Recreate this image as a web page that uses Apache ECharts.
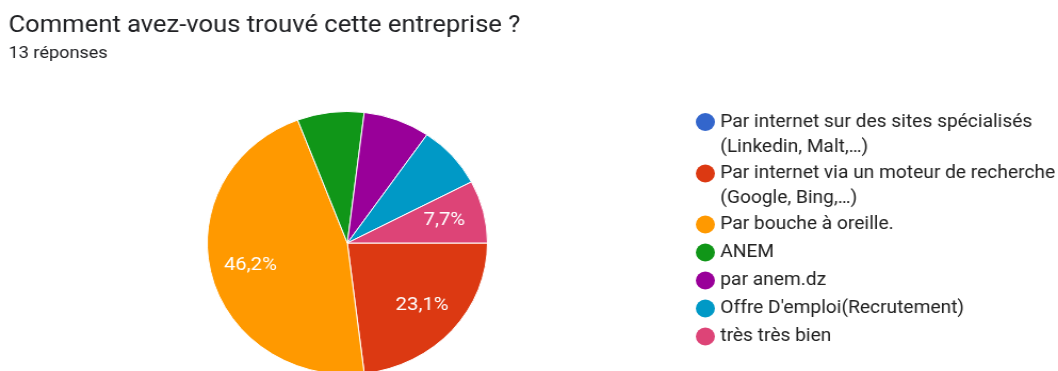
<!DOCTYPE html>
<html>
<head>
<meta charset="utf-8">
<script src="https://cdn.jsdelivr.net/npm/echarts@6/dist/echarts.min.js"></script>
<style>
  html, body { margin: 0; padding: 0; background: #ffffff; overflow: hidden; }
  /* the chart is laid out at 993px and widened to fill the 1058px page */
  #chart { width: 993px; height: 371px; transform: scaleX(1.0655); transform-origin: 0 0; }
</style>
</head>
<body>
<div id="chart"></div>
<script>
// Survey answers: "Comment avez-vous trouvé cette entreprise ?"
const categories = [
  'Par internet sur des sites spécialisés\n(Linkedin, Malt,…)',
  'Par internet via un moteur de recherche\n(Google, Bing,…)',
  'Par bouche à oreille.',
  'ANEM',
  'par anem.dz',
  "Offre D'emploi(Recrutement)",
  'très très bien'
];
const counts = [0, 3, 6, 1, 1, 1, 1];
// slices that carry a percentage label
const labelShown = [false, true, true, false, false, false, true];
const palette = ['#3366cc', '#dc3912', '#ff9900', '#109618', '#990099', '#0099c6', '#dd4477'];

const total = counts.reduce((a, b) => a + b, 0);
const pct = v => (v / total * 100).toFixed(1).replace('.', ',') + '%';

const chart = echarts.init(document.getElementById('chart'), null, { renderer: 'canvas' });

const sliceData = categories.map((name, i) => ({
  name,
  value: counts[i],
  itemStyle: { color: palette[i] }
}));
const labelData = categories.map((name, i) => ({
  name,
  value: counts[i],
  label: { show: labelShown[i] }
}));

// wrapped entries get an empty leading line so the icon sits on their first line
const wrapped = categories.filter(n => n.includes('\n'));
const single = categories.filter(n => !n.includes('\n'));

const legendBase = {
  orient: 'vertical',
  left: 648,
  icon: 'circle',
  itemWidth: 18, itemHeight: 18,
  itemStyle: { borderWidth: 0 },
  selectedMode: false,
  textStyle: { fontFamily: 'Roboto', fontSize: 18, color: '#212121', lineHeight: 25 }
};

chart.setOption({
  animation: false,
  title: [
    {
      text: 'Comment avez-vous trouvé cette entreprise ?',
      left: 3, top: 9,
      textStyle: { fontFamily: 'Roboto', fontSize: 24, fontWeight: 'normal', color: '#202124' }
    },
    {
      text: `${total} réponses`,
      left: 3, top: 40.5,
      textStyle: { fontFamily: 'Roboto', fontSize: 17, fontWeight: 'normal', color: '#202124' }
    }
  ],
  legend: [
    Object.assign({}, legendBase, {
      top: 79.5,
      itemGap: -23.5,
      formatter: name => '\n' + name,
      data: wrapped
    }),
    Object.assign({}, legendBase, {
      top: 207,
      itemGap: 3,
      data: single
    })
  ],
  series: [
    {
      type: 'pie',
      center: [326, 243],
      radius: [0, 131.5],
      startAngle: 0,
      clockwise: true,
      silent: true,
      label: { show: false },
      labelLine: { show: false },
      itemStyle: { borderColor: '#ffffff', borderWidth: 1 },
      data: sliceData
    },
    {
      // transparent ring that only carries the percentage labels
      type: 'pie',
      center: [326, 243],
      radius: [50, 131.5],
      startAngle: 0,
      clockwise: true,
      silent: true,
      itemStyle: { color: 'rgba(0,0,0,0)', borderWidth: 0 },
      label: {
        position: 'inside',
        fontFamily: 'Roboto',
        fontSize: 19,
        color: '#ffffff',
        formatter: p => pct(p.value)
      },
      labelLine: { show: false },
      data: labelData
    }
  ]
});
</script>
</body>
</html>
